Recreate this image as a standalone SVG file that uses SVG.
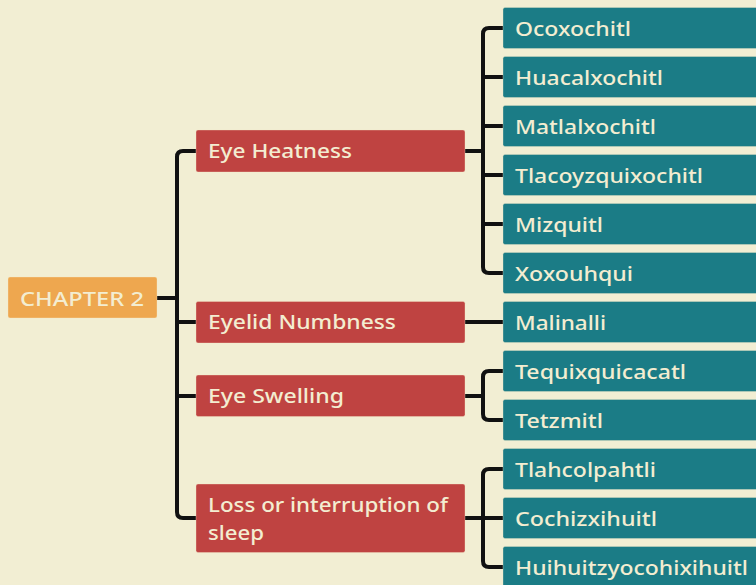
<svg xmlns="http://www.w3.org/2000/svg" width="756" height="585" viewBox="0 0 756 585">
  <style>
    .bg { fill: #f2eed3; }
    .box { stroke: #f4e9c8; stroke-opacity: 0.35; stroke-width: 1; }
    .root { fill: #eea74f; }
    .topic { fill: #bf4341; }
    .leaf { fill: #1b7c86; }
    .label { font-family: "Noto Sans", "Open Sans", sans-serif; font-size: 20px; font-weight: 500; fill: #f3edd1; }
    .wire { fill: none; stroke: #111111; stroke-width: 4; stroke-linecap: butt; stroke-linejoin: round; }
  </style>
  <rect class="bg" x="0" y="0" width="756" height="585"/>

  <g id="connectors">
    <!-- root to trunk -->
    <path class="wire" d="M157 298 H177"/>
    <!-- trunk to topics -->
    <path class="wire" d="M196 151 H183 Q177 151 177 157 V512 Q177 518 183 518 H196"/>
    <path class="wire" d="M177 322 H196"/>
    <path class="wire" d="M177 396 H196"/>
    <!-- Eye Heatness branch -->
    <path class="wire" d="M465 151 H483"/>
    <path class="wire" d="M503 28 H489 Q483 28 483 34 V267 Q483 273 489 273 H503"/>
    <path class="wire" d="M483 77 H503 M483 126 H503 M483 175 H503 M483 224 H503"/>
    <!-- Eyelid Numbness branch -->
    <path class="wire" d="M465 322 H503"/>
    <!-- Eye Swelling branch -->
    <path class="wire" d="M465 396 H483"/>
    <path class="wire" d="M503 371 H489 Q483 371 483 377 V414 Q483 420 489 420 H503"/>
    <!-- Loss of sleep branch -->
    <path class="wire" d="M465 518 H503"/>
    <path class="wire" d="M503 469 H489 Q483 469 483 475 V561 Q483 567 489 567 H503"/>
  </g>

  <g id="chapter2">
    <rect class="box root" x="8" y="277" width="149" height="41" rx="2"/>
    <text class="label" x="20" y="305.5" textLength="124" lengthAdjust="spacingAndGlyphs">CHAPTER 2</text>
  </g>

  <g id="eye-heatness">
    <rect class="box topic" x="196" y="130" width="269" height="42" rx="2"/>
    <text class="label" x="208" y="158" textLength="144" lengthAdjust="spacingAndGlyphs">Eye Heatness</text>
  </g>
  <g id="eyelid-numbness">
    <rect class="box topic" x="196" y="301.5" width="269" height="41.5" rx="2"/>
    <text class="label" x="208" y="329" textLength="188" lengthAdjust="spacingAndGlyphs">Eyelid Numbness</text>
  </g>
  <g id="eye-swelling">
    <rect class="box topic" x="196" y="375" width="269" height="41.5" rx="2"/>
    <text class="label" x="208" y="403" textLength="136" lengthAdjust="spacingAndGlyphs">Eye Swelling</text>
  </g>
  <g id="loss-of-sleep">
    <rect class="box topic" x="196" y="484" width="269" height="68.5" rx="2"/>
    <text class="label" x="208" y="511.5" textLength="240" lengthAdjust="spacingAndGlyphs">Loss or interruption of</text>
    <text class="label" x="208" y="539.5" textLength="56" lengthAdjust="spacingAndGlyphs">sleep</text>
  </g>

  <g id="ocoxochitl">
    <rect class="box leaf" x="503" y="7.5" width="260" height="41" rx="2"/>
    <text class="label" x="515" y="35.5" textLength="116" lengthAdjust="spacingAndGlyphs">Ocoxochitl</text>
  </g>
  <g id="huacalxochitl">
    <rect class="box leaf" x="503" y="56.5" width="260" height="41" rx="2"/>
    <text class="label" x="515" y="84.5" textLength="148" lengthAdjust="spacingAndGlyphs">Huacalxochitl</text>
  </g>
  <g id="matlalxochitl">
    <rect class="box leaf" x="503" y="105.5" width="260" height="41" rx="2"/>
    <text class="label" x="515" y="133.5" textLength="141" lengthAdjust="spacingAndGlyphs">Matlalxochitl</text>
  </g>
  <g id="tlacoyzquixochitl">
    <rect class="box leaf" x="503" y="154.5" width="260" height="41" rx="2"/>
    <text class="label" x="515" y="182.5" textLength="188" lengthAdjust="spacingAndGlyphs">Tlacoyzquixochitl</text>
  </g>
  <g id="mizquitl">
    <rect class="box leaf" x="503" y="203.5" width="260" height="41" rx="2"/>
    <text class="label" x="515" y="231.5" textLength="88" lengthAdjust="spacingAndGlyphs">Mizquitl</text>
  </g>
  <g id="xoxouhqui">
    <rect class="box leaf" x="503" y="252.5" width="260" height="41" rx="2"/>
    <text class="label" x="515" y="280.5" textLength="118" lengthAdjust="spacingAndGlyphs">Xoxouhqui</text>
  </g>
  <g id="malinalli">
    <rect class="box leaf" x="503" y="301.5" width="260" height="41" rx="2"/>
    <text class="label" x="515" y="329.5" textLength="91" lengthAdjust="spacingAndGlyphs">Malinalli</text>
  </g>
  <g id="tequixquicacatl">
    <rect class="box leaf" x="503" y="350.5" width="260" height="41" rx="2"/>
    <text class="label" x="515" y="378.5" textLength="171" lengthAdjust="spacingAndGlyphs">Tequixquicacatl</text>
  </g>
  <g id="tetzmitl">
    <rect class="box leaf" x="503" y="399.5" width="260" height="41" rx="2"/>
    <text class="label" x="515" y="427.5" textLength="88" lengthAdjust="spacingAndGlyphs">Tetzmitl</text>
  </g>
  <g id="tlahcolpahtli">
    <rect class="box leaf" x="503" y="448.5" width="260" height="41" rx="2"/>
    <text class="label" x="515" y="476.5" textLength="141" lengthAdjust="spacingAndGlyphs">Tlahcolpahtli</text>
  </g>
  <g id="cochizxihuitl">
    <rect class="box leaf" x="503" y="497.5" width="260" height="41" rx="2"/>
    <text class="label" x="515" y="525.5" textLength="142" lengthAdjust="spacingAndGlyphs">Cochizxihuitl</text>
  </g>
  <g id="huihuitzyocohixihuitl">
    <rect class="box leaf" x="503" y="546.5" width="260" height="41" rx="2"/>
    <text class="label" x="515" y="574.5" textLength="233" lengthAdjust="spacingAndGlyphs">Huihuitzyocohixihuitl</text>
  </g>
</svg>
